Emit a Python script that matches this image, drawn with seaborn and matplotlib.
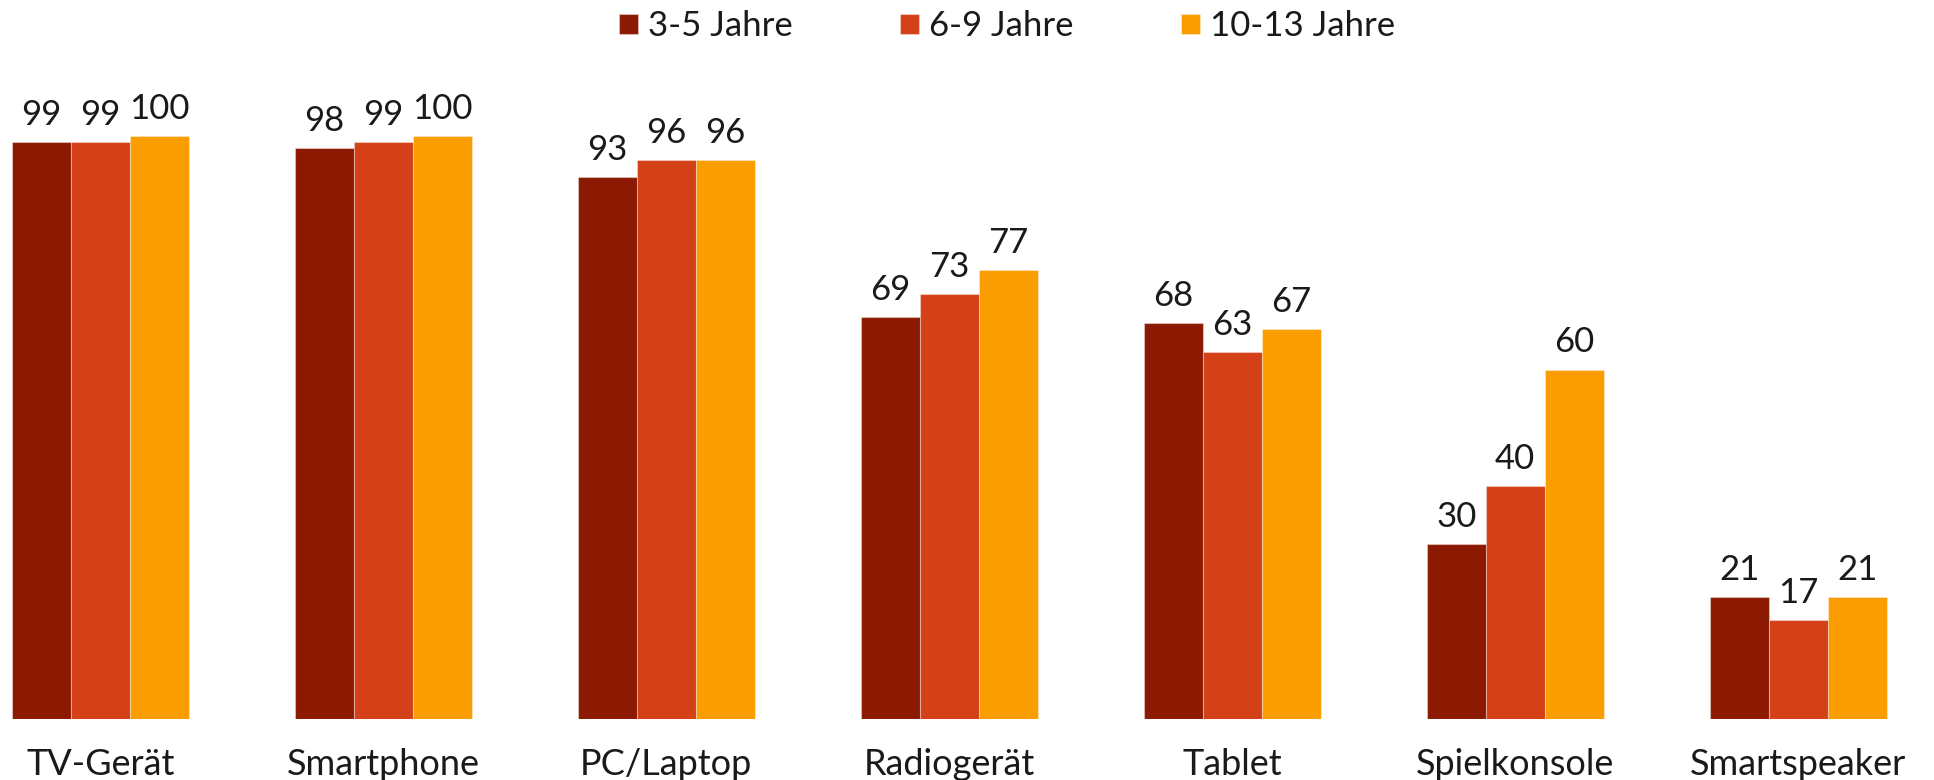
import pandas as pd
import matplotlib.pyplot as plt
import seaborn as sns

categories = ["TV-Gerät", "Smartphone", "PC/Laptop", "Radiogerät", "Tablet", "Spielkonsole", "Smartspeaker"]
age_groups = ["3-5 Jahre", "6-9 Jahre", "10-13 Jahre"]
values_3_5 = [99, 98, 93, 69, 68, 30, 21]
values_6_9 = [99, 99, 96, 73, 63, 40, 17]
values_10_13 = [100, 100, 96, 77, 67, 60, 21]
colors = ["#8C1A02", "#D44017", "#FA9D00"]

rows = []
for group, vals in zip(age_groups, [values_3_5, values_6_9, values_10_13]):
    for cat, v in zip(categories, vals):
        rows.append({"Gerät": cat, "Anteil": v, "Alter": group})
df = pd.DataFrame(rows)

sns.set_theme(style="white")
plt.rcParams["font.family"] = ["Lato", "DejaVu Sans"]
text_color = "#1a1a1a"

fig = plt.figure(figsize=(19.34, 7.8), dpi=100)
ax = fig.add_axes([0, 60.7 / 780, 1, 719.3 / 780])

sns.barplot(data=df, x="Gerät", y="Anteil", hue="Alter", order=categories,
            hue_order=age_groups, palette=colors, width=0.625, gap=0,
            saturation=1, edgecolor=(1, 1, 1, 0.35), linewidth=0.8, ax=ax)

ax.set_xlim(-0.355, 6.48)
ax.set_ylim(0, 123.4)

for c in ax.containers:
    ax.bar_label(c, fmt="%g", padding=8, fontsize=25, color=text_color)

ax.set_xlabel("")
ax.set_ylabel("")
ax.set_yticks([])
ax.tick_params(axis="x", length=0, pad=21, labelsize=26, labelcolor=text_color)
sns.despine(ax=ax, left=True, bottom=True)

handles, labels = ax.get_legend_handles_labels()
ax.legend(handles, labels, loc="center", bbox_to_anchor=(1007 / 1934, 1 - 26 / 780),
          bbox_transform=fig.transFigure, ncol=3, frameon=False, fontsize=25,
          handlelength=0.55, handleheight=0.52, handletextpad=0.29,
          columnspacing=3.08, labelcolor=text_color)

fig.savefig("out.png", dpi=100)
